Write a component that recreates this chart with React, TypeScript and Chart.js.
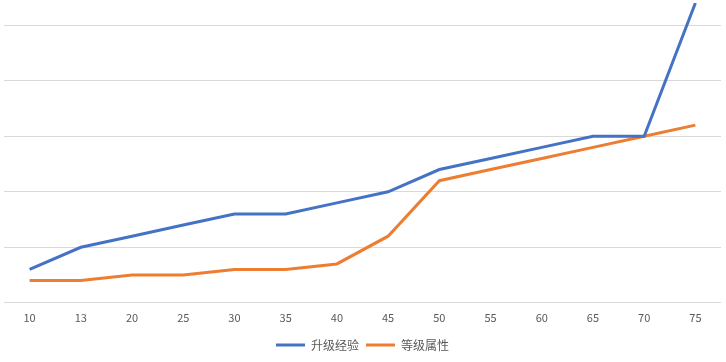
import React, { useEffect, useRef } from "react";
import { Chart, registerables } from "chart.js";

Chart.register(...registerables);

const levels = ["10", "13", "20", "25", "30", "35", "40", "45", "50", "55", "60", "65", "70", "75"];
const upgradeExp = [6, 10, 12, 14, 16, 16, 18, 20, 24, 26, 28, 30, 30, 54];
const levelAttr = [4, 4, 5, 5, 6, 6, 7, 12, 22, 24, 26, 28, 30, 32];
const seriesNames = ["升级经验", "等级属性"];
const gridValues = [0, 10, 20, 30, 40, 50];

export default function App() {
  const ref = useRef<HTMLCanvasElement | null>(null);
  useEffect(() => {
    document.body.style.margin = "0";
    const font = "'Noto Sans CJK SC', 'Noto Sans', sans-serif";
    const chart = new Chart(ref.current!, {
      type: "line",
      data: {
        labels: levels,
        datasets: [
          {
            label: seriesNames[0],
            data: upgradeExp,
            borderColor: "#4472C4",
            backgroundColor: "#4472C4",
            borderWidth: 3,
            pointRadius: 0,
            tension: 0,
          },
          {
            label: seriesNames[1],
            data: levelAttr,
            borderColor: "#ED7D31",
            backgroundColor: "#ED7D31",
            borderWidth: 3,
            pointRadius: 0,
            tension: 0,
          },
        ],
      },
      options: {
        animation: false,
        responsive: false,
        maintainAspectRatio: false,
        layout: { padding: { top: 3, left: 4, right: 5, bottom: 1 } },
        plugins: {
          tooltip: { enabled: false },
          legend: {
            position: "bottom",
            labels: {
              usePointStyle: true,
              pointStyle: "line",
              pointStyleWidth: 29,
              padding: 7,
              color: "#595959",
              font: { family: font, size: 12 },
            },
          },
        },
        scales: {
          x: {
            offset: true,
            grid: { display: false, drawTicks: false },
            border: { display: false },
            ticks: { color: "#595959", font: { family: font, size: 11 }, padding: 8, maxRotation: 0 },
          },
          y: {
            min: 0,
            max: 54,
            afterBuildTicks: (axis: any) => {
              axis.ticks = gridValues.map((v) => ({ value: v }));
            },
            ticks: { display: false },
            border: { display: false },
            grid: { color: "#D9D9D9", lineWidth: 1, drawTicks: false },
          },
        },
      },
    });
    return () => chart.destroy();
  }, []);
  return (
    <div style={{ width: 726, height: 362 }}>
      <canvas ref={ref} width={726} height={362} style={{ display: "block" }} />
    </div>
  );
}
